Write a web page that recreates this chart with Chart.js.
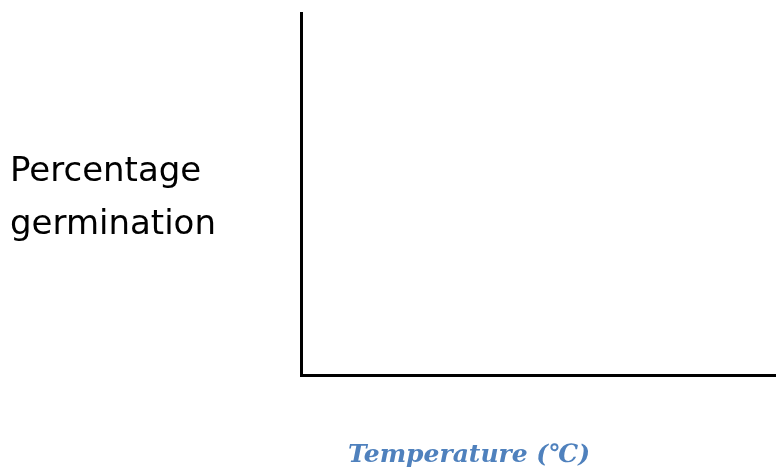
<!DOCTYPE html>
<html>
<head>
  <title>Percentage germination vs temperature</title>
  <script src="https://cdn.jsdelivr.net/npm/chart.js"></script>
  <style>
    body { margin: 0; background: #fff; }
    #wrap { width: 776px; height: 471px; }
  </style>
</head>
<body>
  <div id="wrap"><canvas id="germChart"></canvas></div>

  <script>
    // blank axes for students to plot on - no data yet
    const temperatures = [];
    const germination = [];
    const yLabelLines = ["Percentage", "germination"];
    const xLabel = "Temperature (\u2103)";

    // axis labels: y label is horizontal, x label sits off-centre below the axis
    const axisLabels = {
      id: "axisLabels",
      afterDraw(chart) {
        const ctx = chart.ctx;
        ctx.save();
        ctx.fillStyle = "#000";
        ctx.font = "34px 'DejaVu Sans'";
        ctx.textBaseline = "alphabetic";
        ctx.fillText(yLabelLines[0], 10, 181);
        ctx.fillText(yLabelLines[1], 10, 234);

        ctx.fillStyle = "#4f81bd";
        ctx.font = "italic bold 25px 'DejaVu Serif'";
        ctx.textAlign = "left";
        ctx.fillText(xLabel, 348, 462);
        ctx.restore();
      }
    };

    new Chart(document.getElementById("germChart"), {
      type: "line",
      data: {
        labels: temperatures,
        datasets: [{
          label: "Percentage germination",
          data: germination,
          borderColor: "#000",
          fill: false
        }]
      },
      options: {
        responsive: true,
        maintainAspectRatio: false,
        animation: false,
        layout: { padding: { left: 301, top: 13, right: 0, bottom: 96 } },
        plugins: {
          legend: { display: false },
          tooltip: { enabled: false }
        },
        scales: {
          x: {
            grid: { color: "rgba(0,0,0,0)", drawTicks: false },
            border: { display: true, color: "#000", width: 3 },
            ticks: { display: false }
          },
          y: {
            min: 0,
            max: 100,
            grid: { color: "rgba(0,0,0,0)", drawTicks: false },
            border: { display: true, color: "#000", width: 3 },
            ticks: { display: false }
          }
        }
      },
      plugins: [axisLabels]
    });
  </script>
</body>
</html>
